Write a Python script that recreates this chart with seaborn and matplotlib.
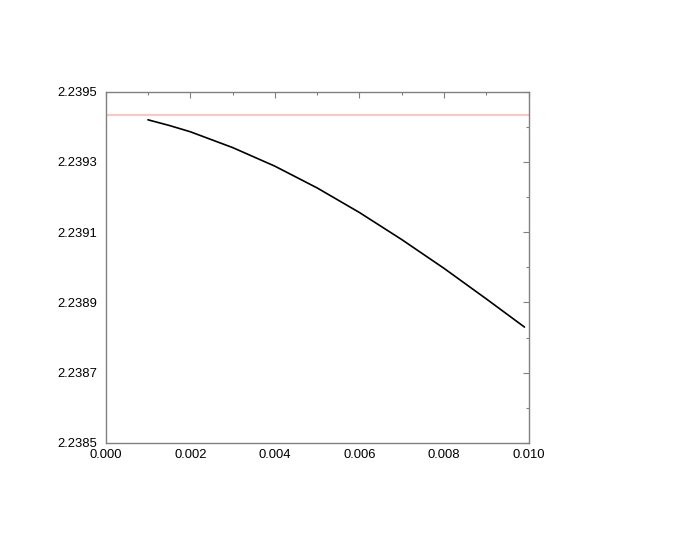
import numpy as np
import pandas as pd
import matplotlib
matplotlib.use("Agg")
import matplotlib.pyplot as plt
from matplotlib.ticker import MultipleLocator, FormatStrFormatter
import seaborn as sns

# values
x_vals = [0.001, 0.0015, 0.002, 0.003, 0.004, 0.005, 0.006, 0.007, 0.008, 0.009, 0.0099]
y_vals = [2.23942, 2.239404, 2.239386, 2.239341, 2.239288, 2.239226,
          2.239156, 2.239079, 2.238997, 2.23891, 2.23883]
ref_level = 2.239435
y_major = [2.2385, 2.2387, 2.2389, 2.2391, 2.2393, 2.2395]
y_minor = [2.2386, 2.2388, 2.2390, 2.2392, 2.2394]

sns.set_style("white")
plt.rcParams["font.family"] = ["Liberation Sans", "DejaVu Sans"]

df = pd.DataFrame({"x": x_vals, "y": y_vals})

fig = plt.figure(figsize=(6.92, 5.35), dpi=100)
ax = fig.add_axes([0.1527, 0.172, 0.6113, 0.6566])

ax.axhline(ref_level, color="#ffc4c4", lw=1.5, zorder=1)
sns.lineplot(data=df, x="x", y="y", ax=ax, color="black", lw=1.2, zorder=2)

ax.set_xlim(0, 0.010)
ax.set_ylim(2.2385, 2.2395)
ax.xaxis.set_major_locator(MultipleLocator(0.002))
ax.xaxis.set_minor_locator(MultipleLocator(0.001))
ax.set_yticks(y_major)
ax.set_yticks(y_minor, minor=True)
ax.xaxis.set_major_formatter(FormatStrFormatter("%.3f"))
ax.yaxis.set_major_formatter(FormatStrFormatter("%.4f"))
ax.set_xlabel("")
ax.set_ylabel("")

for s in ax.spines.values():
    s.set_color("#808080")
    s.set_linewidth(1.0)
ax.tick_params(which="both", direction="in", top=True, right=True,
               color="#808080", width=0.8, labelsize=9.4, labelcolor="black")
ax.tick_params(axis="x", which="major", length=4, pad=4)
ax.tick_params(axis="y", which="major", length=4, pad=6)
ax.tick_params(which="minor", length=2.5)

fig.savefig("out.png", dpi=100)
